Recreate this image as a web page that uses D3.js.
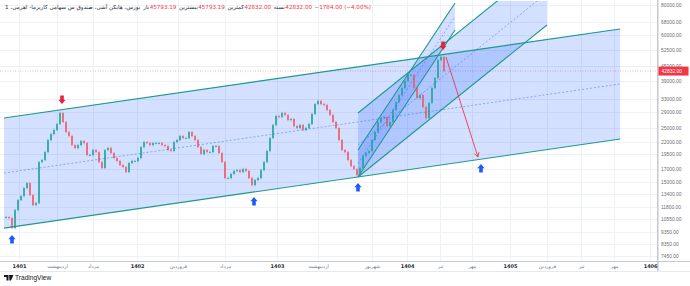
<!DOCTYPE html>
<html>
<head>
<meta charset="utf-8">
<title>کاریزما - کانال صعودی</title>
<script src="https://cdn.jsdelivr.net/npm/d3@7/dist/d3.min.js"></script>
<style>
  body { margin: 0; background: #fff; }
  svg { display: block; font-family: "Liberation Sans", "DejaVu Sans", sans-serif; }
</style>
</head>
<body>
<div id="chart"></div>
<script>
// closes, one sample every bar (bar = 3px step)
const firstBar = 2;
const closes = [
  10770, 10660, 9700, 11500, 12640, 13130, 14160, 14850, 13250, 12060,
  12290, 18110, 18460, 19910, 22300, 23610, 24520, 25950, 28800, 26450,
  24060, 23170, 21270, 20680, 21270, 22090, 21680, 19360, 19360, 20290,
  19910, 18110, 17120, 20290, 20680, 19730, 18810, 18290, 17610, 17280,
  16480, 17940, 18290, 18290, 18810, 20870, 21890, 21680, 21270, 21680,
  21680, 21680, 21270, 21070, 20290, 20100, 21890, 22300, 23170, 22730,
  22730, 24060, 23170, 22300, 20870, 19540, 20290, 19910, 19910, 21070,
  21070, 19730, 18110, 15570, 15570, 16170, 16640, 16790, 16480, 16950,
  16640, 15570, 14570, 15280, 15570, 16790, 18110, 20100, 22730, 25710,
  27990, 27730, 28800, 28260, 26950, 27210, 25460, 24990, 25710, 24520,
  24990, 25950, 28530, 31360, 32260, 31360, 31060, 29620, 28260, 26450,
  24990, 22300, 20290, 19910, 18460, 17440, 16950, 16020, 17120, 19170,
  19730, 20100, 22300, 24060, 26450, 27470, 27730, 25460, 26450, 29620,
  31950, 34140, 36480, 38980, 41260, 41260, 36480, 33190, 34140, 30480,
  27470, 31650, 36480, 40100, 47540, 48900, 42832
];

const yTicks = [80000, 68000, 60000, 52500, 45000, 39000, 33000, 29000, 25000,
  22000, 19500, 17000, 15000, 13400, 11800, 10550, 9350, 8350, 7450];
const xTickBars = [6.3, 19, 31, 45.7, 59.3, 75, 92.3, 106, 124, 135.7, 146.7,
  157.3, 170, 182.3, 193.7, 204.7, 216.7];
const xTickLabels = ["1401", "اردیبهشت", "مرداد", "1402", "فروردین", "مرداد",
  "1403", "اردیبهشت", "شهریور", "1404", "تیر", "مهر", "1405", "فروردین",
  "تیر", "مهر", "1406"];

// channels: [bar1, price1, bar2, price2, price of the parallel line at bar1]
const bigChannel = [1.33, 9700, 206.7, 22520, 27470];
const steepChannel = [119.33, 15720, 151.67, 63150, 20290];
const midChannel = [119.33, 15720, 182.33, 66210, 28800];
const targetArrow = [148.67, 48900, 159.33, 18990];
const upMarks = [[4, 9080], [84.67, 13010], [119.33, 14850], [160.33, 17780]];
const downMarks = [[20.67, 31360], [147.67, 52270]];
const lastPrice = 42832;

const headerTitle = "بورس، هایکن آشی، صندوق س سهامی کاریزما- اهرمی، 1";
const ohlcLabels = ["باز", "بیشترین", "کمترین", "بسته"];
const ohlcValues = ["45793.19", "45793.19", "42832.00", "42832.00"];
const changeText = "−1784.00 (−4.00%)";

const W = 690, H = 286;
const paneW = 657, paneH = 261;
const teal = "#1d998b", red = "#f23645", blue = "#2962ff";

const x = d3.scaleLinear().domain([0, 219]).range([0, paneW]);
const y = d3.scaleLog().domain([7450, 80000]).range([256, 5]);

const svg = d3.select("#chart").append("svg")
    .attr("width", W).attr("height", H);

svg.append("clipPath").attr("id", "pane")
  .append("rect").attr("x", 0).attr("y", 1).attr("width", paneW).attr("height", paneH - 1);

// grid
const grid = svg.append("g").attr("stroke", "#eef1f6").attr("stroke-width", 1);
grid.selectAll("line.h").data(yTicks).join("line").attr("class", "h")
    .attr("x1", 0).attr("x2", paneW)
    .attr("y1", d => Math.round(y(d)) + 0.5).attr("y2", d => Math.round(y(d)) + 0.5);
grid.selectAll("line.v").data(xTickBars).join("line").attr("class", "v")
    .attr("y1", 0).attr("y2", paneH)
    .attr("x1", d => Math.round(x(d)) + 0.5).attr("x2", d => Math.round(x(d)) + 0.5);

const pane = svg.append("g").attr("clip-path", "url(#pane)");

// last price line
pane.append("line")
    .attr("x1", 0).attr("x2", paneW)
    .attr("y1", y(lastPrice)).attr("y2", y(lastPrice))
    .attr("stroke", red).attr("stroke-opacity", 0.45)
    .attr("stroke-width", 0.8).attr("stroke-dasharray", "1,1.5");

function channelParts(c) {
  const [b1, p1, b2, p2, q1] = c;
  const k = q1 / p1, m = Math.sqrt(k);
  return {
    fill: [[b1, p1], [b2, p2], [b2, p2 * k], [b1, q1]],
    lines: [[[b1, p1], [b2, p2]], [[b1, q1], [b2, p2 * k]]],
    mid: [[b1, p1 * m], [b2, p2 * m]]
  };
}

const line = d3.line().x(d => x(d[0])).y(d => y(d[1]));
const channels = [bigChannel, midChannel, steepChannel].map(channelParts);

pane.append("g").selectAll("path").data(channels).join("path")
    .attr("d", d => line(d.fill) + "Z")
    .attr("fill", blue).attr("fill-opacity", 0.2);

// candles: open = previous close, thin bodies with a short wick
const candles = closes.map((c, i) => ({
  bar: firstBar + i,
  open: i === 0 ? c : closes[i - 1],
  close: c
}));
const cg = pane.append("g").selectAll("g").data(candles).join("g")
    .attr("fill", d => d.close >= d.open ? "#26a69a" : "#f05f68")
    .attr("stroke", d => d.close >= d.open ? "#26a69a" : "#f05f68");
cg.append("line")
    .attr("x1", d => x(d.bar)).attr("x2", d => x(d.bar))
    .attr("y1", d => y(Math.max(d.open, d.close)) - 1.2)
    .attr("y2", d => y(Math.min(d.open, d.close)) + 1.2)
    .attr("stroke-width", 0.6);
cg.append("rect")
    .attr("x", d => x(d.bar) - 0.8)
    .attr("width", 1.6)
    .attr("y", d => y(Math.max(d.open, d.close)))
    .attr("height", d => Math.max(0.9, Math.abs(y(d.open) - y(d.close))))
    .attr("stroke", "none");

// channel borders and middle lines
pane.append("g").selectAll("path").data(channels.flatMap(d => d.lines)).join("path")
    .attr("d", line).attr("fill", "none")
    .attr("stroke", teal).attr("stroke-width", 1.1);
pane.append("g").selectAll("path").data(channels.map(d => d.mid)).join("path")
    .attr("d", line).attr("fill", "none")
    .attr("stroke", blue).attr("stroke-opacity", 0.6)
    .attr("stroke-width", 0.8).attr("stroke-dasharray", "2,2");

// target arrow
const [ab1, ap1, ab2, ap2] = targetArrow;
const ax1 = x(ab1), ay1 = y(ap1), ax2 = x(ab2), ay2 = y(ap2);
const ang = Math.atan2(ay2 - ay1, ax2 - ax1);
const arrow = pane.append("g").attr("stroke", red).attr("stroke-width", 0.9).attr("fill", "none");
arrow.append("line").attr("x1", ax1).attr("y1", ay1).attr("x2", ax2).attr("y2", ay2);
[-0.5, 0.5].forEach(da => {
  arrow.append("line").attr("x1", ax2).attr("y1", ay2)
      .attr("x2", ax2 - 5 * Math.cos(ang + da)).attr("y2", ay2 - 5 * Math.sin(ang + da));
});

// up / down marker arrows (tip at the given point)
const upShape = "M0,0L3.6,4.2L1.8,4.2L1.8,8.4L-1.8,8.4L-1.8,4.2L-3.6,4.2Z";
pane.append("g").selectAll("path").data(upMarks).join("path")
    .attr("d", upShape).attr("fill", "#1e5cf5")
    .attr("transform", d => `translate(${x(d[0])},${y(d[1])})`);
pane.append("g").selectAll("path").data(downMarks).join("path")
    .attr("d", upShape).attr("fill", "#e0243a")
    .attr("transform", d => `translate(${x(d[0])},${y(d[1])}) scale(1,-1)`);

// right price axis
svg.append("line").attr("x1", paneW + 0.75).attr("x2", paneW + 0.75)
    .attr("y1", 0).attr("y2", paneH + 10)
    .attr("stroke", "#c5c8d0").attr("stroke-width", 1.5);
const yAxis = svg.append("g")
    .attr("transform", `translate(${paneW + 4},0)`)
    .call(d3.axisRight(y).tickValues(yTicks).tickFormat(d3.format(".2f")).tickSize(0).tickPadding(0));
yAxis.select(".domain").remove();
yAxis.selectAll("text").attr("font-size", 4.9).attr("fill", "#6a6d78")
    .attr("font-family", "Liberation Sans, sans-serif");

const tag = svg.append("g").attr("transform", `translate(${paneW + 1.5},${y(lastPrice)})`);
tag.append("rect").attr("x", 0).attr("y", -4.5).attr("width", 30).attr("height", 9).attr("fill", red);
tag.append("text").attr("x", 3).attr("dy", "0.35em").attr("font-size", 4.9)
    .attr("fill", "#fff").text(d3.format(".2f")(lastPrice));

// time axis
svg.append("line").attr("x1", 0).attr("x2", W)
    .attr("y1", paneH + 0.5).attr("y2", paneH + 0.5)
    .attr("stroke", "#c5c8d0").attr("stroke-width", 1);
svg.append("line").attr("x1", 0).attr("x2", W)
    .attr("y1", paneH + 10.5).attr("y2", paneH + 10.5)
    .attr("stroke", "#e6e8ee").attr("stroke-width", 1);
const xAxis = svg.append("g")
    .attr("transform", `translate(0,${paneH + 2})`)
    .call(d3.axisBottom(x).tickValues(xTickBars)
      .tickFormat((d, i) => xTickLabels[i]).tickSize(0).tickPadding(1));
xAxis.select(".domain").remove();
xAxis.selectAll("text")
    .attr("font-size", 5)
    .attr("font-family", "DejaVu Sans, sans-serif")
    .attr("font-weight", (d, i) => /^\d+$/.test(xTickLabels[i]) ? "bold" : "normal")
    .attr("fill", (d, i) => /^\d+$/.test(xTickLabels[i]) ? "#2a2e39" : "#787b86");

// header legend
const head = svg.append("g").attr("font-size", 5.6).attr("font-family", "DejaVu Sans, sans-serif");
let cx = 5;
function put(txt, color, gap) {
  const t = head.append("text").attr("x", cx).attr("y", 9).attr("fill", color).text(txt);
  cx += t.node().getComputedTextLength() + gap;
}
put(headerTitle, "#2a2e39", 3);
ohlcLabels.forEach((l, i) => {
  put(l, "#2a2e39", 0.5);
  put(ohlcValues[i], red, 2.5);
});
put(changeText, red, 0);

// footer logo
const logo = svg.append("g").attr("transform", "translate(4,275)");
logo.append("path").attr("d", "M0,0H4.5V5.5H2.5V2H0Z M5,0H9.5L7,5.5H5.5Z").attr("fill", "#131722");
logo.append("text").attr("x", 11).attr("y", 5.2).attr("font-size", 6.6)
    .attr("font-family", "Liberation Sans, sans-serif").attr("fill", "#131722")
    .text("TradingView");
</script>
</body>
</html>
